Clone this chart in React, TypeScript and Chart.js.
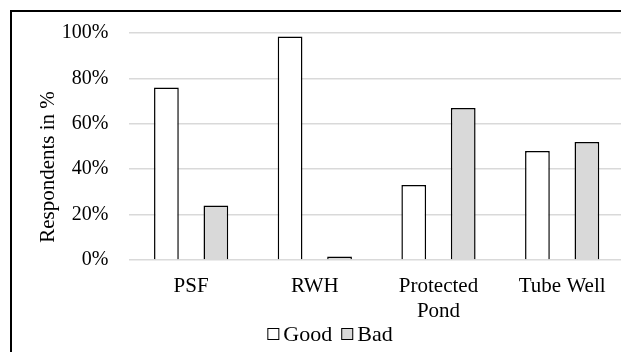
import React, { useEffect, useRef } from "react";
import { Chart, registerables } from "chart.js";

Chart.register(...registerables);

const categories: (string | string[])[] = ["PSF", "RWH", ["Protected", "Pond"], "Tube Well"];
const goodValues = [76, 98.5, 33, 48];
const badValues = [24, 1.5, 67, 52];
const seriesNames = ["Good", "Bad"];
const yTicks = [0, 20, 40, 60, 80, 100];
const yTitle = "Respondents in %";

const FONT = "'Liberation Serif', 'Times New Roman', serif";
const W = 660;
const H = 372;

export default function App() {
  const ref = useRef<HTMLCanvasElement | null>(null);

  useEffect(() => {
    const canvas = ref.current!;
    const fills = ["#ffffff", "#d9d9d9"];

    const framePlugin = {
      id: "frame",
      afterDraw(chart: any) {
        const ctx = chart.ctx;
        ctx.save();
        // outer chart border
        ctx.strokeStyle = "#000";
        ctx.lineWidth = 2;
        ctx.strokeRect(11, 11, W + 40, H + 40);
        // y-axis title
        ctx.fillStyle = "#000";
        ctx.font = `21px ${FONT}`;
        ctx.textAlign = "center";
        ctx.textBaseline = "middle";
        ctx.translate(48, 167);
        ctx.rotate(-Math.PI / 2);
        ctx.fillText(yTitle, 0, 0);
        ctx.restore();

        // legend
        ctx.save();
        ctx.font = `22px ${FONT}`;
        const box = 12;
        const gapText = 4;
        const gapItem = 9;
        const widths = seriesNames.map((n) => ctx.measureText(n).width);
        const total =
          widths.reduce((a, b) => a + b, 0) + seriesNames.length * (box + gapText) + gapItem * (seriesNames.length - 1);
        let x = W / 2 - total / 2;
        const cy = 334;
        seriesNames.forEach((n, i) => {
          ctx.fillStyle = fills[i];
          ctx.fillRect(x, cy - box / 2, box, box);
          ctx.strokeStyle = "#000";
          ctx.lineWidth = 1;
          ctx.strokeRect(x + 0.5, cy - box / 2 + 0.5, box - 1, box - 1);
          ctx.fillStyle = "#000";
          ctx.textAlign = "left";
          ctx.textBaseline = "middle";
          ctx.fillText(n, x + box + gapText, cy + 1);
          x += box + gapText + widths[i] + gapItem;
        });
        ctx.restore();
      },
    };

    const chart = new Chart(canvas, {
      type: "bar",
      data: {
        labels: categories,
        datasets: [
          {
            label: seriesNames[0],
            data: goodValues,
            backgroundColor: fills[0],
            borderColor: "#000",
            borderWidth: 1.5,
          },
          {
            label: seriesNames[1],
            data: badValues,
            backgroundColor: fills[1],
            borderColor: "#000",
            borderWidth: 1.5,
          },
        ],
      },
      options: {
        responsive: false,
        animation: false,
        devicePixelRatio: 1,
        categoryPercentage: 0.8,
        barPercentage: 0.5,
        layout: { padding: { left: 0, right: W - 624, top: 29, bottom: 0 } },
        plugins: {
          legend: { display: false },
          tooltip: { enabled: false },
        },
        scales: {
          x: {
            grid: { display: false, drawTicks: false },
            border: { display: false },
            ticks: {
              color: "#000",
              font: { family: FONT, size: 21 },
              padding: 14,
              maxRotation: 0,
              autoSkip: false,
            },
            afterFit: (scale: any) => {
              scale.height = H - 260;
            },
          },
          y: {
            min: 0,
            max: 100,
            afterBuildTicks: (scale: any) => {
              scale.ticks = yTicks.map((v) => ({ value: v }));
            },
            grid: { color: "#d9d9d9", lineWidth: 1.5, drawTicks: false },
            border: { display: false },
            ticks: {
              color: "#000",
              font: { family: FONT, size: 20 },
              padding: 21,
              callback: (v: any) => `${v}%`,
            },
            afterFit: (scale: any) => {
              scale.width = 129.3;
            },
          },
        },
      },
      plugins: [framePlugin],
    });

    return () => chart.destroy();
  }, []);

  return (
    <div
      style={{
        position: "fixed",
        left: 0,
        top: 0,
        width: 621,
        height: 352,
        overflow: "hidden",
        background: "#fff",
      }}
    >
      <canvas ref={ref} width={W} height={H} style={{ display: "block", width: W, height: H }} />
    </div>
  );
}
